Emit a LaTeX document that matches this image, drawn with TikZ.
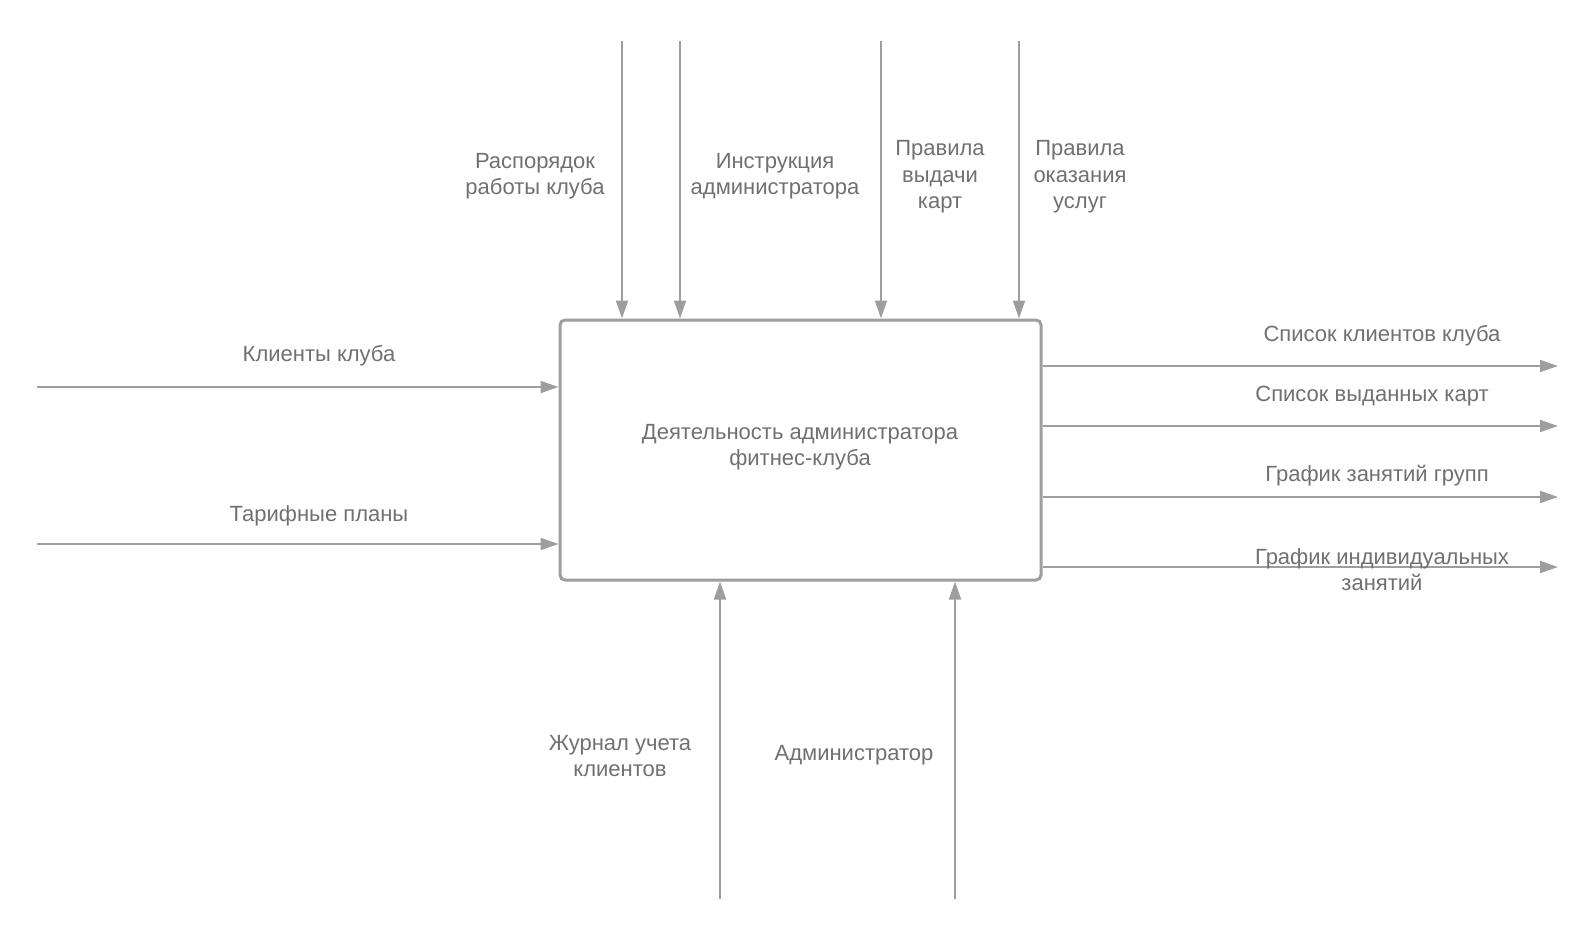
\documentclass[tikz,border=0pt]{standalone}
\usepackage{fontspec}
\setmainfont{Liberation Sans}
\usetikzlibrary{arrows.meta,positioning}
\definecolor{linegray}{HTML}{9E9E9E}
\definecolor{textgray}{HTML}{707070}

\begin{document}
\begin{tikzpicture}[x=1pt,y=-1pt,
  box/.style={draw=linegray, line width=3pt, rounded corners=5pt, minimum width=481pt, minimum height=260pt, inner sep=0pt},
  flow/.style={draw=linegray, line width=2pt, -{Triangle[length=18pt,width=12pt]}},
  lbl/.style={text=textgray, align=center, inner sep=0pt, font=\fontsize{22}{26.5}\selectfont}]
  \useasboundingbox (0,0) rectangle (1595,940);

  % activity box
  \node[box] (proc) at (800.5,450) {};
  \node[lbl] (proctext) at (800,447) {Деятельность администратора\\фитнес-клуба};

  % inputs
  \coordinate (in1) at (37,387);
  \coordinate (in2) at (37,544);
  \draw[flow] (in1) -- (proc.west |- in1);
  \draw[flow] (in2) -- (proc.west |- in2);
  \node[lbl] (in1text) at (319,356) {Клиенты клуба};
  \node[lbl] (in2text) at (319,516) {Тарифные планы};

  % controls
  \coordinate (ctl1) at (622,41);
  \coordinate (ctl2) at (680,41);
  \coordinate (ctl3) at (881,41);
  \coordinate (ctl4) at (1019,41);
  \foreach \c in {ctl1,ctl2,ctl3,ctl4}
    \draw[flow] (\c) -- (proc.north -| \c);
  \node[lbl] (ctl1text) at (535,176) {Распорядок\\работы клуба};
  \node[lbl] (ctl2text) at (775,176) {Инструкция\\администратора};
  \node[lbl] (ctl3text) at (940,177) {Правила\\выдачи\\карт};
  \node[lbl] (ctl4text) at (1080,177) {Правила\\оказания\\услуг};

  % outputs
  \coordinate (out1) at (1558,366);
  \coordinate (out2) at (1558,426);
  \coordinate (out3) at (1558,497);
  \coordinate (out4) at (1558,567);
  \foreach \o in {out1,out2,out3,out4}
    \draw[flow] (proc.east |- \o) -- (\o);
  \node[lbl] (out1text) at (1382,336) {Список клиентов клуба};
  \node[lbl] (out2text) at (1372,396) {Список выданных карт};
  \node[lbl] (out3text) at (1377,476) {График занятий групп};
  \node[lbl] (out4text) at (1382,569.5) {График индивидуальных\\занятий};

  % mechanisms
  \coordinate (mech1) at (720,899);
  \coordinate (mech2) at (955,899);
  \draw[flow] (mech1) -- (proc.south -| mech1);
  \draw[flow] (mech2) -- (proc.south -| mech2);
  \node[lbl] (mech1text) at (620,756) {Журнал учета\\клиентов};
  \node[lbl] (mech2text) at (854,755) {Администратор};
\end{tikzpicture}
\end{document}
